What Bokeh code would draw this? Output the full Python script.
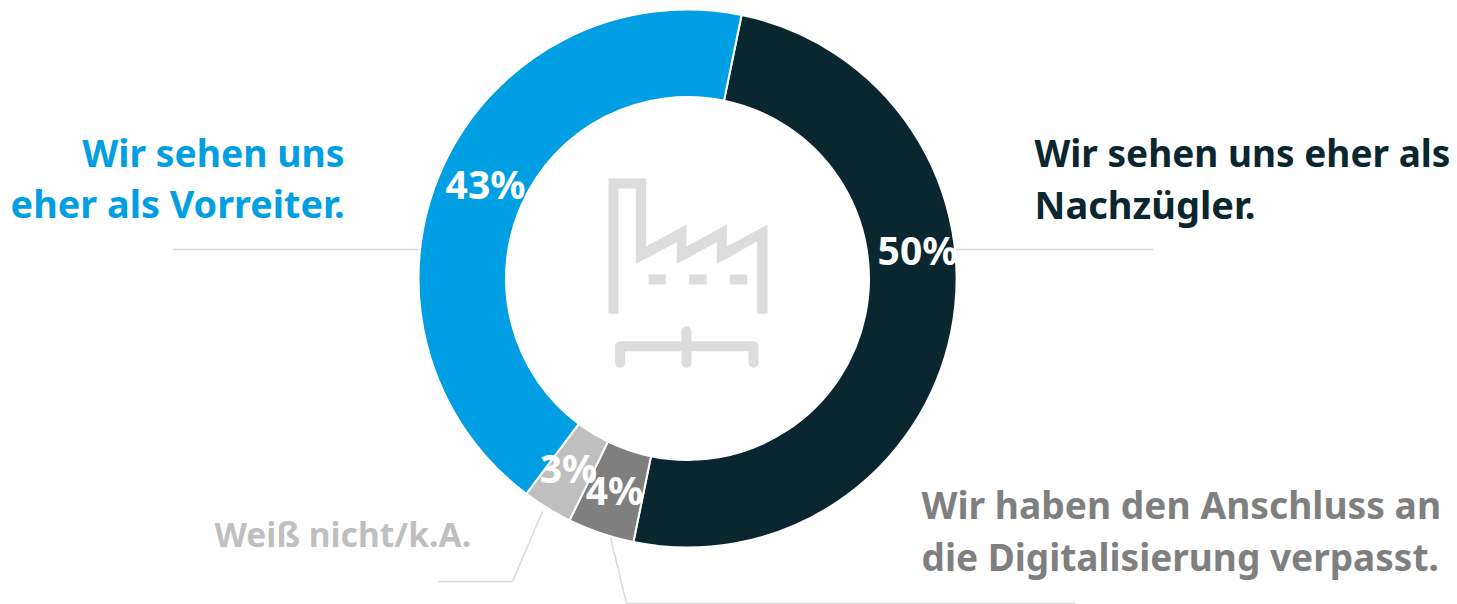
import math
from bokeh.plotting import figure
from bokeh.embed import file_html
from bokeh.resources import INLINE
from bokeh.core.properties import value
from bokeh.models import Range1d

categories = ["Wir sehen uns eher als Nachzügler.", "Wir haben den Anschluss an die Digitalisierung verpasst.", "Weiß nicht/k.A.", "Wir sehen uns eher als Vorreiter."]
shares = [50, 4, 3, 43]
pct_labels = ["50%", "4%", "3%", "43%"]
colors = ["#0a2730", "#7f7f7f", "#bfbfbf", "#009fe3"]

W, H = 1457, 604
FONT = value("Noto Sans")
p = figure(width=W, height=H, output_backend="svg", toolbar_location=None,
           x_range=Range1d(0, W), y_range=Range1d(0, H), min_border=0)
p.axis.visible = False
p.grid.visible = False
p.outline_line_color = None
p.background_fill_color = "white"
p.border_fill_color = "white"

Y = lambda y: H - y
CX, CY, RO, RI, START = 687, Y(278), 269, 181.5, 11.6

# leader lines
LINE = "#d9d9d9"
for xs, ys in [([173, 418], [249, 249]), ([955, 1153], [249, 249]),
               ([542, 512, 438], [511, 581, 581]), ([610, 626, 1075], [537, 603, 603])]:
    p.line(xs, [Y(v) for v in ys], line_color=LINE, line_width=1.5)

# donut
cum = START
for s, c in zip(shares, colors):
    a0 = cum
    a1 = cum + s * 3.6
    cum = a1
    p.annular_wedge(CX, CY, RI, RO, math.pi / 2 - math.radians(a1), math.pi / 2 - math.radians(a0),
                    fill_color=c, line_color="white", line_width=2)

# factory icon
ICON = "#dcdcdc"
ix = lambda v: 580 + v / 3
iy = lambda v: Y(160 + v / 3)
body = [(84, 460), (84, 54), (197, 54), (197, 258), (318, 192), (318, 258), (439, 192), (439, 258),
        (561, 192), (561, 460), (530, 460), (530, 243), (409, 310), (409, 245), (289, 310), (289, 245),
        (166, 310), (166, 84), (114, 84), (114, 460)]
p.patch([ix(a) for a, b in body], [iy(b) for a, b in body], fill_color=ICON, line_color=None)
for l in (204, 326, 448):
    q = [(l, 342), (l + 52, 342), (l + 52, 372), (l, 372)]
    p.patch([ix(a) for a, b in q], [iy(b) for a, b in q], fill_color=ICON, line_color=None)
for q in ([(119, 607), (119, 557), (519, 557), (519, 607)], [(318, 512), (318, 607)]):
    p.line([ix(a) for a, b in q], [iy(b) for a, b in q], line_color=ICON, line_width=10,
           line_cap="round", line_join="round")

# percent labels
for t, x, y in zip(pct_labels, [917, 614, 568, 485], [249, 489, 467, 183]):
    p.text([x], [Y(y)], text=[t], text_color="white", text_font=FONT, text_font_style="bold",
           text_font_size="39px", text_align="center", text_baseline="alphabetic")

# category captions
caps = [("Wir sehen uns", 344, 152, "right", "#009fe3", "37.3px"),
        ("eher als Vorreiter.", 344, 203, "right", "#009fe3", "37.8px"),
        ("Wir sehen uns eher als", 1034, 152, "left", "#0a2730", "37px"),
        ("Nachzügler.", 1034, 203, "left", "#0a2730", "38px"),
        ("Wir haben den Anschluss an", 921, 504, "left", "#7f7f7f", "37.2px"),
        ("die Digitalisierung verpasst.", 921, 556, "left", "#7f7f7f", "37px"),
        ("Weiß nicht/k.A.", 214, 533, "left", "#bfbfbf", "33.6px")]
for t, x, y, al, c, fs in caps:
    p.text([x], [Y(y)], text=[t], text_color=c, text_font=FONT, text_font_style="bold",
           text_font_size=fs, text_align=al, text_baseline="alphabetic")

open("out.html", "w").write(file_html(p, INLINE))
